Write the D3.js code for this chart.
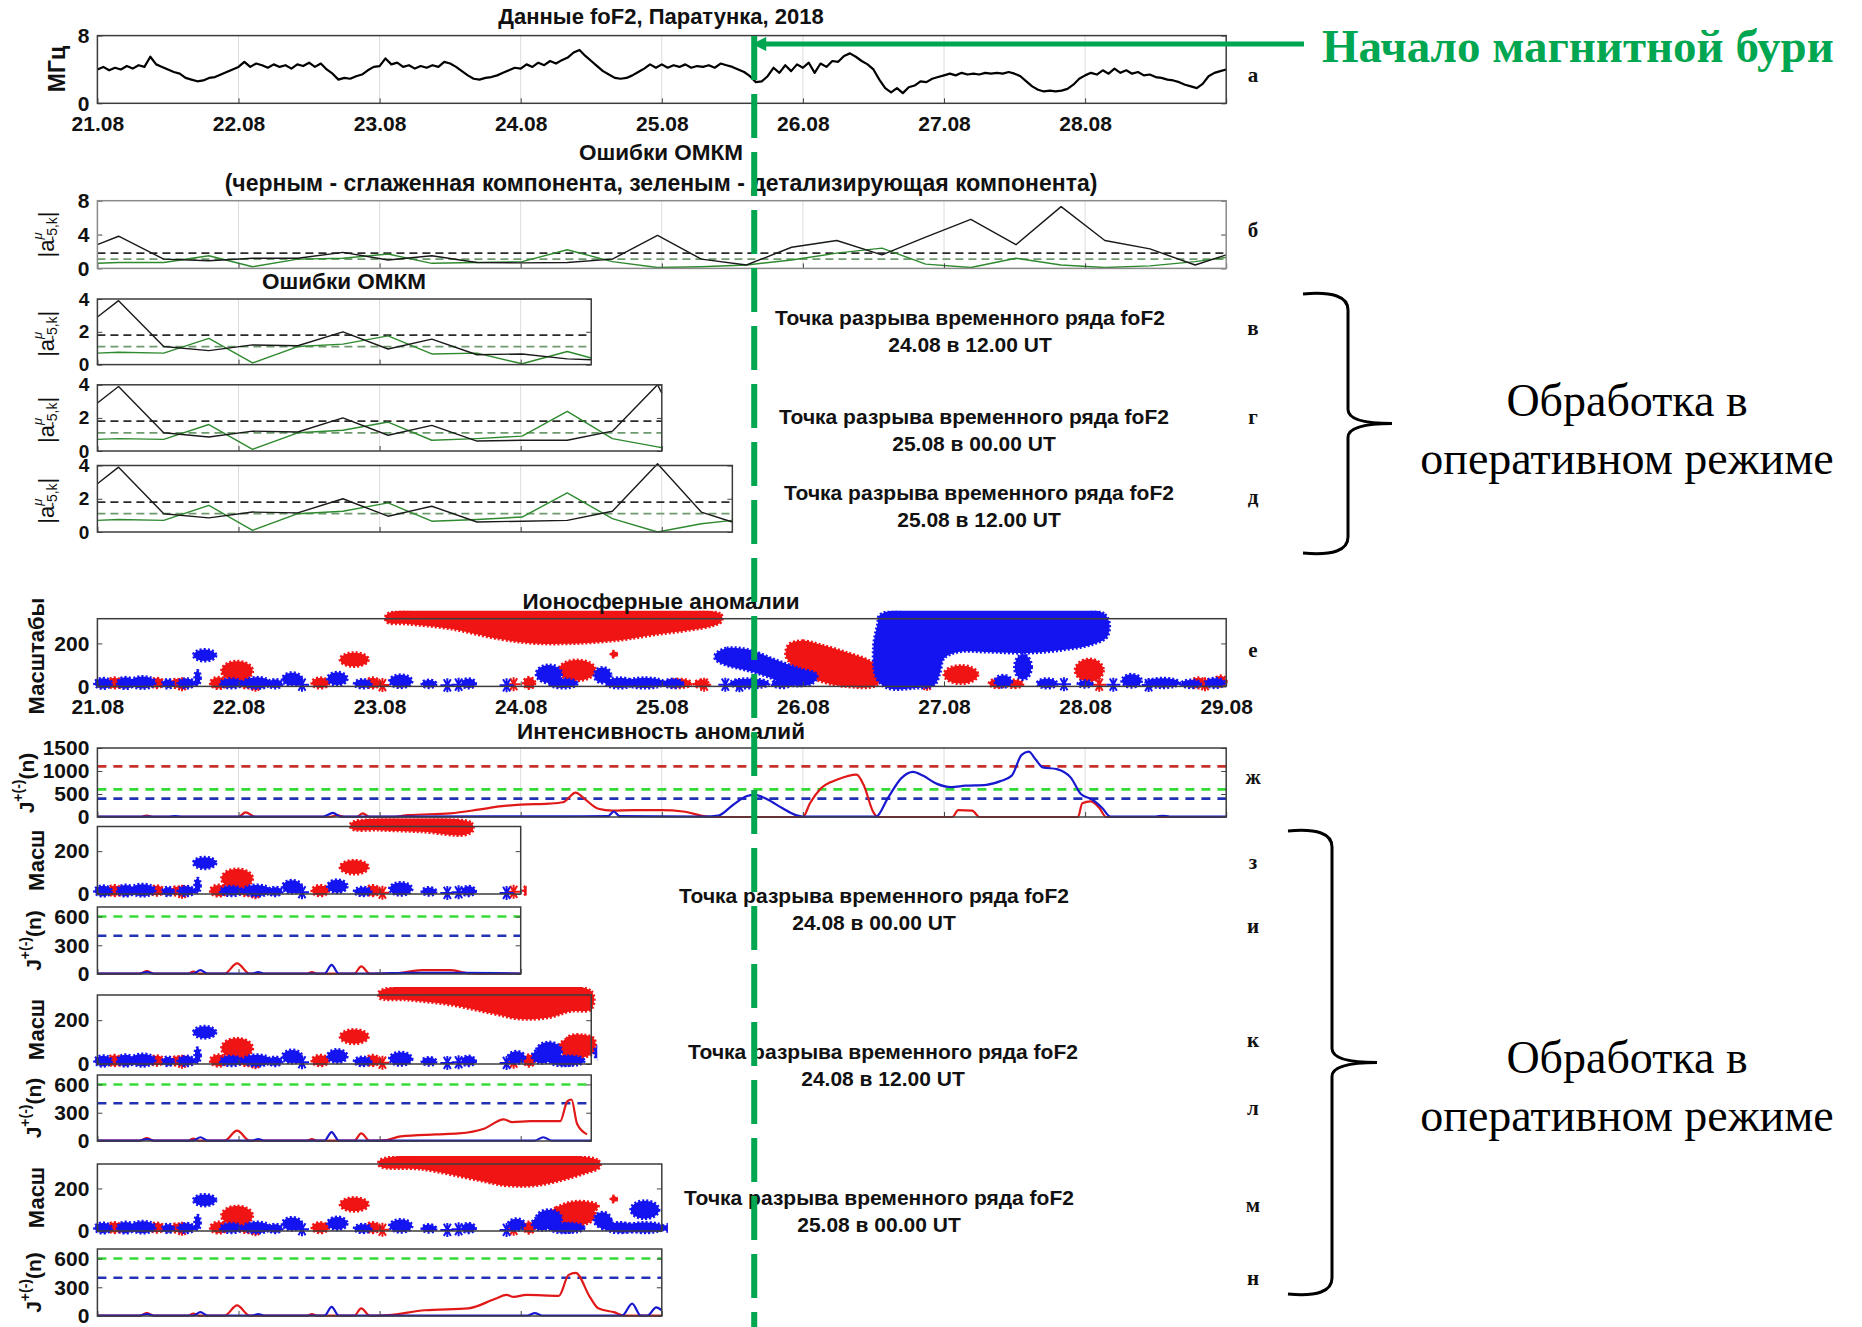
<!DOCTYPE html>
<html lang="ru">
<head>
<meta charset="utf-8">
<title>foF2, Паратунка, 2018</title>
<script src="https://cdn.jsdelivr.net/npm/d3@7"></script>
<style>
  body { margin: 0; background: #fff; }
  svg { display: block; }
</style>
</head>
<body>
<svg id="chart" width="1862" height="1327"></svg>
<script>
// ---------- data ----------
const dateLabels = ['21.08', '22.08', '23.08', '24.08', '25.08', '26.08', '27.08', '28.08', '29.08'];
const stormDay = 4.655; // начало магнитной бури, сутки от 21.08 00 UT

// foF2, МГц, hourly from 21.08 00 UT
const foF2 = [
  4.0, 4.3, 3.9, 4.2, 4.0, 4.4, 4.1, 4.5, 4.3, 5.5, 4.6, 4.3, 4.0, 3.7, 3.5, 3.0, 2.8, 2.6, 2.7, 3.0, 3.1, 3.4, 3.7, 4.0,
  4.3, 4.9, 4.3, 4.7, 4.5, 4.2, 4.6, 4.3, 4.5, 4.1, 4.6, 4.4, 4.8, 4.3, 4.7, 4.0, 3.5, 2.8, 3.0, 2.9, 3.2, 3.4, 3.9, 4.3,
  4.4, 5.3, 4.6, 4.8, 4.3, 4.5, 4.1, 4.4, 4.2, 4.5, 4.3, 4.9, 4.7, 4.3, 3.8, 3.3, 2.9, 2.8, 3.0, 3.1, 3.3, 3.6, 3.9, 4.2,
  4.1, 4.6, 4.3, 4.8, 4.5, 5.0, 4.7, 5.1, 5.4, 6.0, 6.3, 5.6, 5.0, 4.4, 3.8, 3.4, 3.0, 2.9, 3.0, 3.3, 3.7, 4.1, 4.6, 4.2,
  4.6, 4.2, 4.5, 4.3, 4.6, 4.2, 4.4, 4.3, 4.5, 4.2, 4.7, 4.5, 4.3, 4.0, 3.7, 3.2, 2.5, 2.6, 3.2, 4.2, 3.6, 4.5, 3.8, 4.6,
  4.2, 4.8, 3.6, 4.7, 4.3, 5.0, 4.9, 5.6, 5.9, 5.5, 5.0, 4.6, 4.0, 2.8, 1.8, 1.3, 1.8, 1.2, 1.9, 2.1, 2.6, 2.5, 2.9, 3.1,
  3.3, 3.5, 3.3, 3.6, 3.4, 3.5, 3.4, 3.6, 3.5, 3.6, 3.5, 3.7, 3.5, 3.2, 2.6, 2.0, 1.6, 1.4, 1.5, 1.4, 1.5, 1.7, 2.2, 2.9,
  3.3, 3.6, 3.4, 3.9, 3.5, 4.1, 3.6, 3.9, 3.5, 3.7, 3.3, 3.4, 3.1, 3.0, 2.8, 2.7, 2.5, 2.2, 2.0, 1.8, 2.3, 3.2, 3.6, 3.8,
  4.0
];

// ОМКМ errors |a|, vertex times in days
const errDays = [0, 0.15, 0.47, 0.79, 1.10, 1.42, 1.74, 2.06, 2.37, 2.69, 3.01, 3.33, 3.65, 3.97, 4.28, 4.60, 4.92, 5.24, 5.56, 5.87, 6.19, 6.51, 6.83, 7.14, 7.46, 7.78, 8.0];
const smoothB = [2.8, 3.8, 1.1, 0.9, 1.2, 1.2, 1.9, 1.0, 1.5, 0.7, 0.65, 0.7, 1.1, 3.9, 1.1, 0.4, 2.5, 3.3, 1.6, 3.7, 5.8, 2.8, 7.3, 3.3, 2.3, 0.4, 1.6];
const detailB = [0.6, 0.7, 0.7, 1.5, 0.2, 1.1, 1.2, 1.7, 0.6, 0.7, 0.8, 2.2, 0.8, 0.1, 0.2, 0.4, 1.0, 1.8, 2.4, 0.5, 0.1, 1.2, 0.4, 0.1, 0.3, 0.8, 1.3];
const daysV = [0, 0.15, 0.47, 0.79, 1.10, 1.42, 1.74, 2.06, 2.37, 2.69, 3.01, 3.33, 3.5];
const smoothV = [2.9, 3.9, 1.1, 0.85, 1.2, 1.15, 2.0, 0.95, 1.55, 0.6, 0.65, 0.35, 0.3];
const detailV = [0.7, 0.75, 0.7, 1.6, 0.1, 1.1, 1.25, 1.75, 0.65, 0.7, 0.05, 0.8, 0.4];
const daysG = [0, 0.15, 0.47, 0.79, 1.10, 1.42, 1.74, 2.06, 2.37, 2.69, 3.01, 3.33, 3.65, 3.97, 4.0];
const smoothG = [2.9, 3.9, 1.1, 0.85, 1.2, 1.15, 2.0, 0.95, 1.55, 0.6, 0.65, 0.65, 1.2, 4.0, 3.5];
const detailG = [0.7, 0.75, 0.7, 1.6, 0.1, 1.1, 1.25, 1.75, 0.65, 0.75, 0.9, 2.4, 0.75, 0.25, 0.2];
const daysD = [0, 0.15, 0.47, 0.79, 1.10, 1.42, 1.74, 2.06, 2.37, 2.69, 3.01, 3.33, 3.65, 3.97, 4.28, 4.5];
const smoothD = [2.9, 3.9, 1.1, 0.85, 1.2, 1.15, 2.0, 0.95, 1.55, 0.6, 0.65, 0.7, 1.25, 4.1, 1.2, 0.6];
const detailD = [0.7, 0.75, 0.7, 1.6, 0.1, 1.1, 1.25, 1.75, 0.65, 0.75, 0.9, 2.35, 0.8, 0.0, 0.5, 0.7];
const errLevels = [1.8, 1.1]; // smooth (black), detail (green)

// anomaly clusters [day, scale, half-width days, half-height scale]
const blobsBlue = [
  [0.04, 14, 0.06, 24], [0.2, 16, 0.06, 26], [0.32, 18, 0.09, 28], [0.5, 12, 0.04, 20], [0.63, 14, 0.06, 22],
  [0.71, 40, 0.02, 34], [0.76, 145, 0.08, 27], [0.95, 14, 0.08, 22], [1.13, 16, 0.1, 26], [1.26, 12, 0.05, 20],
  [1.38, 34, 0.07, 30], [1.7, 36, 0.07, 30], [1.88, 12, 0.06, 20], [2.15, 24, 0.08, 30], [2.35, 12, 0.05, 18],
  [2.63, 14, 0.05, 22], [3.2, 58, 0.09, 42], [3.3, 14, 0.1, 22], [3.58, 52, 0.06, 36], [3.7, 16, 0.1, 24],
  [3.88, 16, 0.14, 24], [4.08, 14, 0.07, 20], [4.62, 14, 0.14, 22], [4.85, 12, 0.07, 18], [6.42, 24, 0.06, 28],
  [6.56, 90, 0.06, 58], [6.73, 14, 0.07, 22], [7.0, 12, 0.05, 16], [7.33, 26, 0.07, 30], [7.55, 16, 0.12, 22],
  [7.75, 12, 0.07, 18], [7.92, 16, 0.07, 22]
];
const blobsRed = [
  [0.12, 16, 0.05, 24], [0.17, 12, 0.04, 18], [0.42, 16, 0.05, 22], [0.56, 14, 0.04, 20], [0.86, 16, 0.06, 26],
  [0.99, 72, 0.11, 45], [1.06, 14, 0.06, 22], [1.58, 16, 0.06, 24], [1.82, 125, 0.1, 32], [1.95, 16, 0.05, 24],
  [3.06, 16, 0.04, 26], [3.4, 75, 0.13, 48], [3.66, 150, 0.02, 14], [4.12, 14, 0.09, 20], [4.28, 12, 0.05, 18],
  [6.12, 55, 0.12, 42], [6.38, 14, 0.06, 20], [6.5, 12, 0.06, 18], [7.03, 75, 0.1, 52], [7.8, 16, 0.05, 24],
  [7.96, 25, 0.04, 24]
];
const singlesBlue = [[1.45, 8], [2.48, 5], [2.56, 8], [2.9, 5], [4.45, 8], [4.55, 5], [6.85, 10], [7.2, 8], [7.45, 6]];
const singlesRed = [[0.6, 10], [1.12, 8], [2.02, 6], [2.95, 10], [4.3, 8], [5.88, 12], [7.1, 8], [7.85, 10]];

// large anomaly regions, [day, scale] outlines
const redTopE = [[2.05, 335], [4.42, 335], [4.42, 300], [4.35, 280], [4.2, 262], [3.95, 240], [3.7, 215], [3.4, 200], [3.1, 200], [2.85, 220], [2.5, 268], [2.2, 290], [2.05, 300]];
const blueWedgeE = [[4.38, 150], [4.46, 178], [4.62, 170], [4.8, 125], [4.97, 85], [5.1, 55], [5.07, 15], [4.9, 5], [4.75, 45], [4.6, 75], [4.45, 100], [4.38, 125]];
const redWedgeE = [[4.9, 195], [5.0, 212], [5.12, 195], [5.3, 160], [5.47, 120], [5.56, 70], [5.52, 5], [5.3, 0], [5.12, 25], [4.98, 70], [4.88, 140]];
const blueHugeE = [[5.55, 335], [7.14, 335], [7.16, 235], [7.05, 195], [6.85, 170], [6.6, 155], [6.3, 160], [6.1, 160], [6.0, 130], [5.97, 60], [5.93, 5], [5.8, -8], [5.6, -8], [5.52, 40], [5.5, 180], [5.53, 290]];
const redTopZ = [[1.8, 332], [2.65, 332], [2.66, 295], [2.6, 275], [2.3, 290], [2.0, 298], [1.8, 305]];
const redTopK = [[2.0, 332], [3.5, 332], [3.5, 250], [3.35, 240], [3.2, 212], [3.0, 205], [2.8, 230], [2.5, 270], [2.2, 292], [2.0, 302]];
const redEndK = [[3.3, 60], [3.34, 125], [3.45, 132], [3.52, 115], [3.52, 60], [3.42, 50]];
const blueEndK = [[2.97, 30, 0.06, 28], [3.15, 35, 0.07, 32], [3.35, 15, 0.1, 22]];
const redTopM = [[2.0, 332], [3.55, 332], [3.56, 300], [3.45, 270], [3.3, 240], [3.1, 213], [2.9, 213], [2.7, 238], [2.3, 290], [2.0, 305]];
const redEndM = [[3.18, 70], [3.25, 110], [3.4, 140], [3.55, 120], [3.5, 80], [3.38, 50], [3.22, 45]];
const blueEndM = [[2.97, 30, 0.06, 28], [3.15, 35, 0.07, 32], [3.35, 15, 0.1, 22], [3.6, 35, 0.05, 28], [3.88, 100, 0.1, 42], [3.75, 14, 0.09, 20]];

// anomaly intensity J, [day, value]
const intRedE = [[0, 5], [0.3, 5], [0.35, 30], [0.4, 5], [1.0, 5], [1.05, 100], [1.12, 5], [1.65, 5], [1.7, 40], [1.75, 5], [1.84, 5], [1.88, 80], [1.93, 5],
  [2.1, 5], [2.2, 40], [2.5, 80], [2.7, 160], [2.85, 230], [3.0, 270], [3.2, 290], [3.3, 320], [3.39, 530], [3.45, 400], [3.55, 180], [3.65, 140],
  [3.8, 150], [4.0, 150], [4.15, 120], [4.3, 20], [4.35, 0], [5.0, 0], [5.05, 300], [5.12, 600], [5.25, 820], [5.38, 920], [5.43, 700], [5.5, 100],
  [5.53, 0], [6.06, 0], [6.1, 150], [6.2, 140], [6.25, 0], [6.95, 0], [6.98, 300], [7.04, 340], [7.1, 200], [7.15, 0], [8, 0]];
const intBlueE = [[0, 10], [0.5, 10], [0.55, 20], [0.6, 10], [1.6, 10], [1.67, 90], [1.72, 10], [2.0, 10], [3.3, 15], [3.62, 20], [3.66, 120], [3.7, 20],
  [4.3, 10], [4.4, 30], [4.5, 250], [4.6, 450], [4.66, 480], [4.75, 380], [4.85, 200], [4.95, 40], [5.0, 10], [5.52, 10], [5.6, 400], [5.7, 850],
  [5.78, 980], [5.85, 900], [5.95, 720], [6.05, 650], [6.15, 680], [6.3, 700], [6.4, 780], [6.48, 900], [6.55, 1350], [6.6, 1420], [6.65, 1250],
  [6.7, 1080], [6.8, 1040], [6.9, 850], [6.97, 500], [7.05, 380], [7.12, 200], [7.18, 10], [7.5, 10], [7.55, 25], [7.6, 10], [8, 10]];
const intLevelsE = [1100, 600, 400];
const intLevelsMini = [600, 400];
const intRedEarly = [[0, 3], [0.3, 3], [0.35, 30], [0.4, 3], [0.64, 3], [0.68, 25], [0.72, 3], [0.9, 3], [0.99, 110], [1.08, 3], [1.48, 3], [1.52, 20], [1.56, 3], [1.82, 3], [1.87, 80], [1.93, 3]];
const intBlueEarly = [[0, 5], [0.3, 5], [0.35, 20], [0.4, 5], [0.68, 5], [0.73, 40], [0.78, 5], [1.1, 5], [1.14, 20], [1.18, 5], [1.61, 5], [1.66, 95], [1.71, 5], [1.95, 5]];
const intRedI = intRedEarly.concat([[2.1, 5], [2.3, 40], [2.5, 40], [2.62, 10], [2.75, 3], [3, 3]]);
const intBlueI = intBlueEarly.concat([[2.2, 12], [2.6, 12], [3, 5]]);
const intRedL = intRedEarly.concat([[2.05, 10], [2.15, 50], [2.4, 70], [2.56, 80], [2.74, 130], [2.88, 230], [2.94, 200], [3.07, 210], [3.28, 210], [3.33, 420], [3.36, 440], [3.4, 180], [3.47, 70]]);
const intBlueL = intBlueEarly.concat([[3.1, 5], [3.16, 40], [3.22, 5], [3.5, 5]]);
const intRedN = intRedEarly.concat([[2.06, 10], [2.32, 60], [2.63, 80], [2.82, 180], [2.9, 220], [2.95, 200], [3.04, 220], [3.27, 210], [3.34, 430], [3.39, 450], [3.49, 200], [3.55, 80], [3.66, 40], [3.74, 3], [4, 3]]);
const intBlueN = intBlueEarly.concat([[3.05, 5], [3.1, 30], [3.15, 5], [3.72, 5], [3.79, 130], [3.85, 5], [3.9, 5], [3.96, 90], [4.0, 60]]);

const breakLabels = ['24.08 в 12.00 UT', '25.08 в 00.00 UT', '25.08 в 12.00 UT', '24.08 в 00.00 UT', '24.08 в 12.00 UT', '25.08 в 00.00 UT'];

// ---------- drawing ----------
const FONT = '"Liberation Sans", Arial, sans-serif';
const SERIF = '"Liberation Serif", "Times New Roman", serif';
const RED = '#f01414', BLUE = '#1414f0';
const X0 = 97.4, DAY = 141.1;
const svg = d3.select('#chart');
svg.append('rect').attr('width', 1862).attr('height', 1327).attr('fill', '#fff');

let clipId = 0;
function makePanel(top, bottom, days, yMax) {
    const x = d3.scaleLinear().domain([0, days]).range([X0, X0 + DAY * days]);
    const y = d3.scaleLinear().domain([0, yMax]).range([bottom, top]);
    const g = svg.append('g');
    return { x, y, top, bottom, days, grid: g.append('g'), data: g.append('g'), frame: g.append('g') };
}

function drawFrame(p, yTicks, opts = {}) {
    const right = p.x(p.days);
    if (opts.grid) {
        p.grid.selectAll('line').data(d3.range(1, Math.ceil(p.days))).join('line')
            .attr('x1', d => p.x(d)).attr('x2', d => p.x(d))
            .attr('y1', p.top).attr('y2', p.bottom)
            .attr('stroke', '#dcdcdc').attr('stroke-width', 1);
    }
    const gy = p.frame.append('g').attr('transform', `translate(${X0},0)`)
        .call(d3.axisLeft(p.y).tickValues(yTicks).tickSizeInner(-5).tickSizeOuter(0).tickPadding(8).tickFormat(d => String(d)));
    p.frame.append('g').attr('transform', `translate(${right},0)`)
        .call(d3.axisRight(p.y).tickValues(yTicks).tickSizeInner(-5).tickSizeOuter(0).tickFormat(''));
    const nLab = opts.xLabels || 0;
    const gx = p.frame.append('g').attr('transform', `translate(0,${p.bottom})`)
        .call(d3.axisBottom(p.x).tickValues(d3.range(0, Math.floor(p.days) + 1))
            .tickSizeInner(-5).tickSizeOuter(0).tickPadding(13)
            .tickFormat(d => d < nLab ? dateLabels[d] : ''));
    [gy, gx].forEach(a => a.selectAll('text')
        .attr('font-family', FONT).attr('font-size', opts.tickFont || 21).attr('font-weight', 'bold').attr('fill', '#111'));
    p.frame.selectAll('.domain').remove();
    p.frame.selectAll('.tick line').attr('stroke', '#444');
    p.frame.append('rect')
        .attr('x', X0).attr('y', p.top).attr('width', right - X0).attr('height', p.bottom - p.top)
        .attr('fill', 'none').attr('stroke', opts.box || '#3c3c3c').attr('stroke-width', 1.5);
}

function hLevels(p, levels, colors, width, dash) {
    p.data.selectAll(null).data(levels).join('line')
        .attr('x1', X0).attr('x2', p.x(p.days))
        .attr('y1', d => p.y(d)).attr('y2', d => p.y(d))
        .attr('stroke', (d, i) => colors[i]).attr('stroke-width', width)
        .attr('stroke-dasharray', dash);
}

function seriesLine(p, pts, color, width, curve) {
    p.data.append('path').datum(pts)
        .attr('fill', 'none').attr('stroke', color).attr('stroke-width', width)
        .attr('stroke-linejoin', 'round')
        .attr('d', d3.line().x(d => p.x(d[0])).y(d => p.y(d[1])).curve(curve || d3.curveLinear));
}

function drawErrors(p, days, smooth, detail) {
    hLevels(p, errLevels, ['#2a2a2a', '#6f9a6f'], 1.8, '8,5');
    seriesLine(p, d3.zip(days, detail), '#2f8a2f', 1.4);
    seriesLine(p, d3.zip(days, smooth), '#1a1a1a', 1.4);
}

function asterisk(r) {
    const a = r * 0.5, b = r * 0.866;
    return `M${-r},0L${r},0M${-a},${-b}L${a},${b}M${-a},${b}L${a},${-b}M0,${-r}L0,${r}`;
}

function drawAnomalies(p, shapes, extraBlue) {
    const id = 'clip' + (clipId++);
    svg.append('clipPath').attr('id', id).append('rect')
        .attr('x', X0 - 12).attr('y', p.top - 8)
        .attr('width', p.x(p.days) - X0 + 18).attr('height', p.bottom - p.top + 24);
    const g = p.data.append('g').attr('clip-path', `url(#${id})`);
    const lim = p.days + 0.05;
    const outline = d3.line().x(d => p.x(d[0])).y(d => p.y(d[1])).curve(d3.curveCatmullRomClosed.alpha(0.5));
    const blobs = (list, color) => g.selectAll(null).data(list.filter(d => d[0] - d[2] < lim)).join('ellipse')
        .attr('cx', d => p.x(d[0])).attr('cy', d => p.y(d[1]))
        .attr('rx', d => p.x(d[2]) - p.x(0)).attr('ry', d => p.y(0) - p.y(d[3]))
        .attr('fill', color).attr('stroke', color).attr('stroke-width', 3).attr('stroke-dasharray', '2,2');
    const singles = (list, color) => g.selectAll(null).data(list.filter(d => d[0] < lim)).join('path')
        .attr('transform', d => `translate(${p.x(d[0])},${p.y(d[1])})`)
        .attr('d', asterisk(7)).attr('stroke', color).attr('stroke-width', 2).attr('fill', 'none');

    blobs(blobsRed, RED);
    singles(singlesRed, RED);
    shapes.filter(s => s.color === RED).forEach(s => g.append('path').datum(s.pts)
        .attr('d', outline).attr('fill', RED).attr('stroke', RED).attr('stroke-width', 3).attr('stroke-dasharray', '2,2'));
    blobs(blobsBlue, BLUE);
    if (extraBlue) blobs(extraBlue, BLUE);
    singles(singlesBlue, BLUE);
    shapes.filter(s => s.color === BLUE).forEach(s => g.append('path').datum(s.pts)
        .attr('d', outline).attr('fill', BLUE).attr('stroke', BLUE).attr('stroke-width', 3).attr('stroke-dasharray', '2,2'));
}

function drawIntensity(p, red, blue, levels) {
    const cols = levels.length === 3 ? ['#c8302c', '#36dc36', '#2232b4'] : ['#36dc36', '#2232b4'];
    hLevels(p, levels, cols, 2.6, '9,7');
    seriesLine(p, red, '#e01818', 2.2, d3.curveMonotoneX);
    seriesLine(p, blue, '#1818d0', 2.2, d3.curveMonotoneX);
}

function text(x, y, str, size, opts = {}) {
    return svg.append('text').attr('x', x).attr('y', y).text(str)
        .attr('font-family', opts.family || FONT).attr('font-size', size)
        .attr('font-weight', opts.weight || 'bold').attr('fill', opts.fill || '#111')
        .attr('text-anchor', opts.anchor || 'middle').attr('dominant-baseline', 'central');
}

// rotated y-axis label with super/subscripts
function yLabelA(cx, cy) {
    const t = svg.append('text').attr('transform', `translate(${cx},${cy}) rotate(-90)`)
        .attr('font-family', FONT).attr('font-size', 22).attr('fill', '#111')
        .attr('text-anchor', 'middle').attr('dominant-baseline', 'central');
    t.append('tspan').text('|a');
    t.append('tspan').text('μ').attr('font-size', 13).attr('font-style', 'italic').attr('dy', -9);
    t.append('tspan').text('-5,k').attr('font-size', 14).attr('dx', -8).attr('dy', 15);
    t.append('tspan').text('|').attr('dy', -6);
}
function yLabelJ(cx, cy) {
    const t = svg.append('text').attr('transform', `translate(${cx},${cy}) rotate(-90)`)
        .attr('font-family', FONT).attr('font-size', 21).attr('font-weight', 'bold').attr('fill', '#111')
        .attr('text-anchor', 'middle').attr('dominant-baseline', 'central');
    t.append('tspan').text('J');
    t.append('tspan').text('+(-)').attr('font-size', 14).attr('dy', -8);
    t.append('tspan').text('(n)').attr('dy', 8);
}
function yLabel(cx, cy, str, size) {
    text(0, 0, str, size || 21).attr('x', null).attr('y', null)
        .attr('transform', `translate(${cx},${cy}) rotate(-90)`);
}

// а: foF2
const pA = makePanel(35.6, 103.3, 8, 8);
drawFrame(pA, [0, 8], { grid: true, xLabels: 8 });
seriesLine(pA, foF2.map((v, i) => [i / 24, v]), '#000', 2.2);
text(661, 16, 'Данные foF2, Паратунка, 2018', 22);
yLabel(57, 69, 'МГц', 23);

// б: errors, full interval
const pB = makePanel(200.7, 268.4, 8, 8);
drawFrame(pB, [0, 4, 8], { grid: true, box: '#8a8a8a' });
drawErrors(pB, errDays, smoothB, detailB);
text(661, 152, 'Ошибки ОМКМ', 22.5);
text(661, 183, '(черным - сглаженная компонента, зеленым - детализирующая компонента)', 23);
yLabelA(46, 234.5);

// в, г, д: errors in operational mode
const errPanels = [
    [299, 364.6, 3.5, daysV, smoothV, detailV],
    [384.8, 451, 4.0, daysG, smoothG, detailG],
    [465.5, 532, 4.5, daysD, smoothD, detailD]
];
errPanels.forEach(([t, b, n, dd, s, dt]) => {
    const p = makePanel(t, b, n, 4);
    drawFrame(p, [0, 2, 4], { grid: true, tickFont: 19 });
    drawErrors(p, dd, s, dt);
    yLabelA(46, (t + b) / 2 + 2);
});
text(344, 281, 'Ошибки ОМКМ', 22.5);

// е: ionospheric anomalies
const pE = makePanel(618.7, 686.4, 8, 315);
drawFrame(pE, [0, 200], { xLabels: 9 });
drawAnomalies(pE, [
    { color: RED, pts: redTopE }, { color: RED, pts: redWedgeE },
    { color: BLUE, pts: blueWedgeE }, { color: BLUE, pts: blueHugeE }
]);
text(661, 601, 'Ионосферные аномалии', 22.5);
yLabel(36, 656, 'Масштабы', 22);

// ж: intensity
const pJ = makePanel(748, 817, 8, 1500);
drawFrame(pJ, [0, 500, 1000, 1500], { grid: true });
drawIntensity(pJ, intRedE, intBlueE, intLevelsE);
text(661, 731, 'Интенсивность аномалий', 22.5);
yLabelJ(26, 783);

// з-н: operational mode, anomalies + intensity
const opPanels = [
    [826.5, 894, 907, 974, 3.0, [{ color: RED, pts: redTopZ }], null, intRedI, intBlueI],
    [995, 1064, 1075, 1141, 3.5, [{ color: RED, pts: redTopK }, { color: RED, pts: redEndK }], blueEndK, intRedL, intBlueL],
    [1164, 1231, 1249, 1316, 4.0, [{ color: RED, pts: redTopM }, { color: RED, pts: redEndM }], blueEndM, intRedN, intBlueN]
];
opPanels.forEach(([t1, b1, t2, b2, n, shapes, extra, red, blue]) => {
    const pa = makePanel(t1, b1, n, 315);
    drawFrame(pa, [0, 200]);
    drawAnomalies(pa, shapes, extra);
    yLabel(36, (t1 + b1) / 2, 'Масш', 22);
    const pi = makePanel(t2, b2, n, 700);
    drawFrame(pi, [0, 300, 600]);
    drawIntensity(pi, red, blue, intLevelsMini);
    yLabelJ(33, (t2 + b2) / 2);
});

// break-point captions
const captionPos = [[970, 317], [974, 416], [979, 492], [874, 895], [883, 1051], [879, 1197]];
captionPos.forEach(([cx, cy], i) => {
    text(cx, cy, 'Точка разрыва временного ряда foF2', 21);
    text(cx, cy + 27, breakLabels[i], 21);
});

// panel letters
const letters = [['а', 75], ['б', 230], ['в', 328], ['г', 417], ['д', 497], ['е', 650], ['ж', 777],
    ['з', 862], ['и', 926], ['к', 1040], ['л', 1108], ['м', 1205], ['н', 1278]];
letters.forEach(([s, y]) => text(1253, y, s, 21, { family: SERIF }));

// braces and side captions
function brace(xEnd, xSpine, xTip, yTop, yBot) {
    const yMid = (yTop + yBot) / 2;
    svg.append('path')
        .attr('d', `M${xEnd},${yTop}Q${xSpine},${yTop - 4} ${xSpine},${yTop + 16}L${xSpine},${yMid - 14}` +
            `Q${xSpine},${yMid} ${xTip},${yMid}Q${xSpine},${yMid} ${xSpine},${yMid + 14}` +
            `L${xSpine},${yBot - 16}Q${xSpine},${yBot + 4} ${xEnd},${yBot}`)
        .attr('fill', 'none').attr('stroke', '#000').attr('stroke-width', 3);
}
brace(1303, 1348, 1392, 294, 553);
brace(1288, 1332, 1377, 831, 1294);
[[400, 458], [1057, 1115]].forEach(([y1, y2]) => {
    text(1627, y1, 'Обработка в', 46, { family: SERIF, weight: 'normal', fill: '#000' });
    text(1627, y2, 'оперативном режиме', 46, { family: SERIF, weight: 'normal', fill: '#000' });
});

// storm onset marker
const GREEN = '#00a650';
const xs = pA.x(stormDay);
svg.append('line').attr('x1', xs).attr('x2', xs).attr('y1', 36).attr('y2', 1327)
    .attr('stroke', GREEN).attr('stroke-width', 6).attr('stroke-dasharray', '44,14');
svg.append('line').attr('x1', xs + 8).attr('x2', 1304).attr('y1', 44).attr('y2', 44)
    .attr('stroke', GREEN).attr('stroke-width', 5);
svg.append('path').attr('d', `M${xs - 2},44L${xs + 12},37L${xs + 12},51Z`).attr('fill', GREEN);
text(1322, 46, 'Начало магнитной бури', 47, { family: SERIF, fill: GREEN, anchor: 'start' });
</script>
</body>
</html>
